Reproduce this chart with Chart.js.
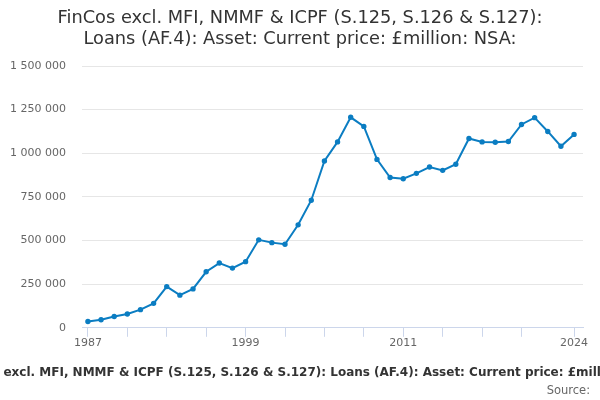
<!DOCTYPE html>
<html>
<head>
<meta charset="utf-8">
<script src="https://cdn.jsdelivr.net/npm/chart.js@4"></script>
<style>
  html, body { margin: 0; padding: 0; background: #fff; }
  #wrap { width: 600px; height: 400px; }
</style>
</head>
<body>
<div id="wrap"><canvas id="chart"></canvas></div>
<script>
// Years along the x axis
const years = [
  1987, 1988, 1989, 1990, 1991, 1992, 1993, 1994, 1995, 1996,
  1997, 1998, 1999, 2000, 2001, 2002, 2003, 2004, 2005, 2006,
  2007, 2008, 2009, 2010, 2011, 2012, 2013, 2014, 2015, 2016,
  2017, 2018, 2019, 2020, 2021, 2022, 2023, 2024
];

// Loans (AF.4), £million
const loans = [
  36500, 46000, 65000, 79000, 104000, 140000, 236000, 187000, 223000, 321000,
  371000, 342000, 379000, 504000, 488000, 479000, 590000, 731000, 956000, 1065000,
  1206000, 1154000, 965000, 861000, 854000, 885000, 921000, 902000, 937000, 1085000,
  1065000, 1063000, 1067000, 1165000, 1204000, 1125000, 1040000, 1108000
];

// Tick marks on the x axis, and which of them carry a label
const xTickYears = [1987, 1990, 1993, 1996, 1999, 2002, 2005, 2008, 2011, 2014, 2017, 2020, 2024];
const xLabelYears = [1987, 1999, 2011, 2024];

const titleLines = [
  "FinCos excl. MFI, NMMF & ICPF (S.125, S.126 & S.127):",
  "Loans (AF.4): Asset: Current price: £million: NSA:"
];
const axisTitle = "FinCos excl. MFI, NMMF & ICPF (S.125, S.126 & S.127): Loans (AF.4): Asset: Current price: £million: NSA:";
const sourceText = "Source:";

const FONT = "'DejaVu Sans', sans-serif";
const fmt = (v) => String(Math.round(v)).replace(/\B(?=(\d{3})+(?!\d))/g, " ");

// title, long x axis title and source are drawn by hand so they are centred
// on the whole canvas and not squeezed into the axis width
const textPlugin = {
  id: "texts",
  afterDraw(chart) {
    const c = chart.ctx;
    c.save();
    c.textBaseline = "middle";

    c.font = "17.8px " + FONT;
    c.fillStyle = "#333333";
    c.textAlign = "center";
    c.fillText(titleLines[0], chart.width / 2, 18);
    c.fillText(titleLines[1], chart.width / 2, 39);

    c.font = "bold 12px " + FONT;
    c.fillText(axisTitle, chart.width / 2 + 9, chart.scales.x.top + 45);

    c.font = "11.5px " + FONT;
    c.fillStyle = "#666666";
    c.textAlign = "right";
    c.fillText(sourceText, 590, chart.scales.x.top + 63);
    c.restore();
  }
};

const ctx = document.getElementById("chart").getContext("2d");
new Chart(ctx, {
  type: "line",
  data: {
    datasets: [{
      data: years.map((y, i) => ({ x: y, y: loans[i] })),
      borderColor: "#0b7dc2",
      backgroundColor: "#0b7dc2",
      borderWidth: 2,
      pointRadius: 1.7,
      pointHoverRadius: 2,
      tension: 0,
      fill: false
    }]
  },
  options: {
    responsive: true,
    maintainAspectRatio: false,
    animation: false,
    layout: { padding: { left: 0, right: 17, top: 66, bottom: 50 } },
    plugins: {
      legend: { display: false },
      tooltip: { enabled: false },
      title: { display: false },
      subtitle: { display: false }
    },
    scales: {
      x: {
        type: "linear",
        min: 1986.55,
        max: 2024.68,
        afterBuildTicks: (scale) => {
          scale.ticks = xTickYears.map((v) => ({ value: v }));
        },
        ticks: {
          autoSkip: false,
          maxRotation: 0,
          color: "#666666",
          padding: 0,
          font: { family: FONT, size: 11 },
          callback: (v) => (xLabelYears.includes(v) ? String(v) : "")
        },
        grid: {
          drawOnChartArea: false,
          drawTicks: true,
          tickLength: 9,
          color: "#ccd6eb"
        },
        border: { display: true, color: "#ccd6eb", width: 1 }
      },
      y: {
        min: 0,
        max: 1500000,
        afterFit: (scale) => { scale.width = 82; },
        ticks: {
          stepSize: 250000,
          color: "#666666",
          padding: 16,
          font: { family: FONT, size: 11 },
          callback: (v) => fmt(v)
        },
        grid: { color: "#e6e6e6", drawTicks: false },
        border: { display: false }
      }
    }
  },
  plugins: [textPlugin]
});
</script>
</body>
</html>
